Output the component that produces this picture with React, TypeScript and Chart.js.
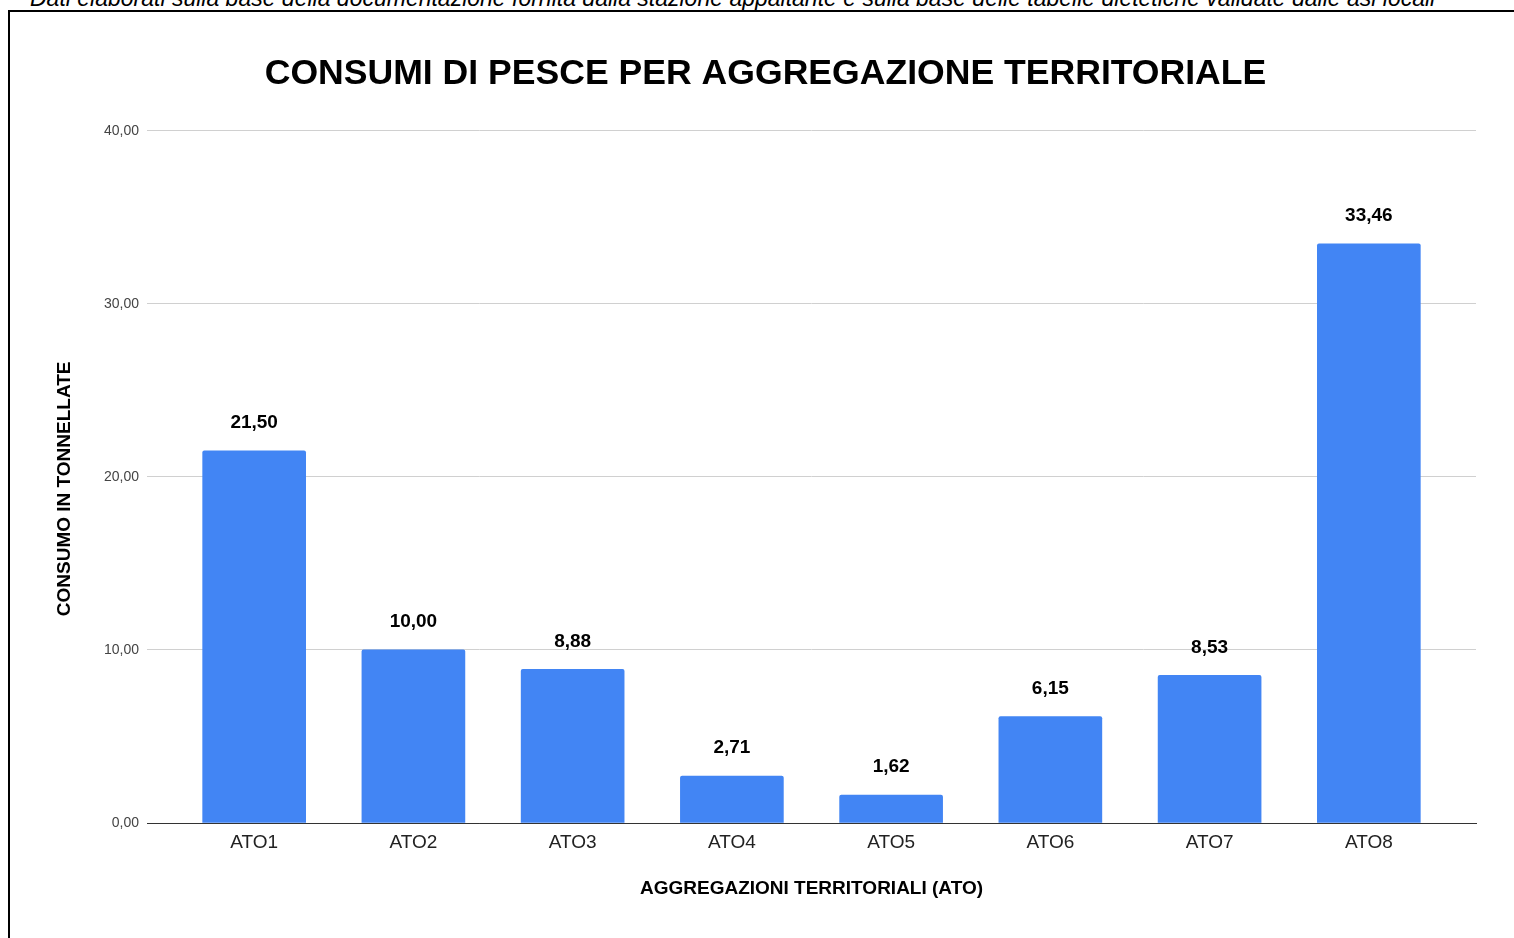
import React, { useEffect, useRef } from "react";
import { Chart, registerables } from "chart.js";

Chart.register(...registerables);

const categories = ["ATO1", "ATO2", "ATO3", "ATO4", "ATO5", "ATO6", "ATO7", "ATO8"];
const consumi = [21.5, 10.0, 8.88, 2.71, 1.62, 6.15, 8.53, 33.46];
const yTicks = [0, 10, 20, 30, 40];

const FONT = "'Liberation Sans', Arial, sans-serif";
const fmt = (v: number) => v.toFixed(2).replace(".", ",");

const valueLabels = {
  id: "valueLabels",
  afterDatasetsDraw(chart: any) {
    const ctx = chart.ctx;
    const meta = chart.getDatasetMeta(0);
    ctx.save();
    ctx.font = `bold 19px ${FONT}`;
    ctx.fillStyle = "#000";
    ctx.textAlign = "center";
    ctx.textBaseline = "middle";
    meta.data.forEach((el: any, i: number) => {
      ctx.fillText(fmt(consumi[i]), el.x, el.y - 28);
    });
    // y-axis title, drawn manually so it can sit slightly below the plot centre
    const area = chart.chartArea;
    ctx.translate(55, (area.top + area.bottom) / 2 + 12);
    ctx.rotate(-Math.PI / 2);
    ctx.fillText("CONSUMO IN TONNELLATE", 0, 0);
    ctx.restore();
  },
};

export default function App() {
  const ref = useRef<HTMLCanvasElement | null>(null);
  useEffect(() => {
    if (!ref.current) return;
    const chart = new Chart(ref.current, {
      type: "bar",
      data: {
        datasets: [
          {
            data: consumi.map((v, i) => ({ x: i, y: v })),
            backgroundColor: "#4285F4",
            barThickness: 103,
            borderRadius: { topLeft: 2, topRight: 2, bottomLeft: 0, bottomRight: 0 },
            borderSkipped: "bottom",
          },
        ],
      },
      options: {
        animation: false,
        responsive: false,
        layout: { padding: { left: 45, right: 38, top: 41, bottom: 38 } },
        plugins: {
          legend: { display: false },
          tooltip: { enabled: false },
          title: {
            display: true,
            text: "CONSUMI DI PESCE PER AGGREGAZIONE TERRITORIALE",
            color: "#000",
            font: { family: FONT, size: 35.6, weight: "bold" },
            padding: { top: 0, bottom: 35 },
          },
        },
        scales: {
          x: {
            type: "linear",
            offset: false,
            min: -0.673,
            max: 7.673,
            grid: { display: false, drawTicks: false, offset: false },
            border: { display: true, color: "#333", width: 1 },
            afterBuildTicks: (scale: any) => {
              scale.ticks = categories.map((_, i) => ({ value: i }));
            },
            afterFit: (scale: any) => {
              scale.height = 77;
            },
            ticks: {
              autoSkip: false,
              maxRotation: 0,
              padding: 8,
              color: "#222",
              font: { family: FONT, size: 19 },
              callback: (v: any) => categories[v] ?? "",
            },
            title: {
              display: true,
              text: "AGGREGAZIONI TERRITORIALI (ATO)",
              color: "#000",
              font: { family: FONT, size: 19, weight: "bold" },
              padding: { top: 4, bottom: 0 },
            },
          },
          y: {
            min: 0,
            max: 40,
            afterBuildTicks: (scale: any) => {
              scale.ticks = yTicks.map((v) => ({ value: v }));
            },
            afterFit: (scale: any) => {
              scale.width = 92;
            },
            grid: {
              color: (c: any) => (c.tick && c.tick.value === 0 ? "#333" : "#d0d0d0"),
              drawTicks: false,
            },
            border: { display: false },
            ticks: {
              padding: 8,
              color: "#444",
              font: { family: FONT, size: 14 },
              callback: (v: any) => fmt(Number(v)),
            },
            title: { display: false },
          },
        },
      },
      plugins: [valueLabels],
    } as any);
    return () => chart.destroy();
  }, []);

  return (
    <div
      style={{
        position: "absolute",
        left: 0,
        top: 0,
        width: 1514,
        height: 938,
        overflow: "hidden",
        background: "#fff",
      }}
    >
      <div
        style={{
          position: "absolute",
          left: 30,
          top: -15,
          whiteSpace: "nowrap",
          fontFamily: FONT,
          fontStyle: "italic",
          fontSize: 23,
          color: "#000",
        }}
      >
        Dati elaborati sulla base della documentazione fornita dalla stazione appaltante e sulla base delle tabelle dietetiche validate dalle asl locali
      </div>
      <div
        style={{
          position: "absolute",
          left: 8,
          top: 10,
          width: 1540,
          height: 1000,
          border: "2px solid #000",
        }}
      />
      <canvas
        ref={ref}
        width={1504}
        height={926}
        style={{ position: "absolute", left: 10, top: 12, width: 1504, height: 926 }}
      />
    </div>
  );
}
